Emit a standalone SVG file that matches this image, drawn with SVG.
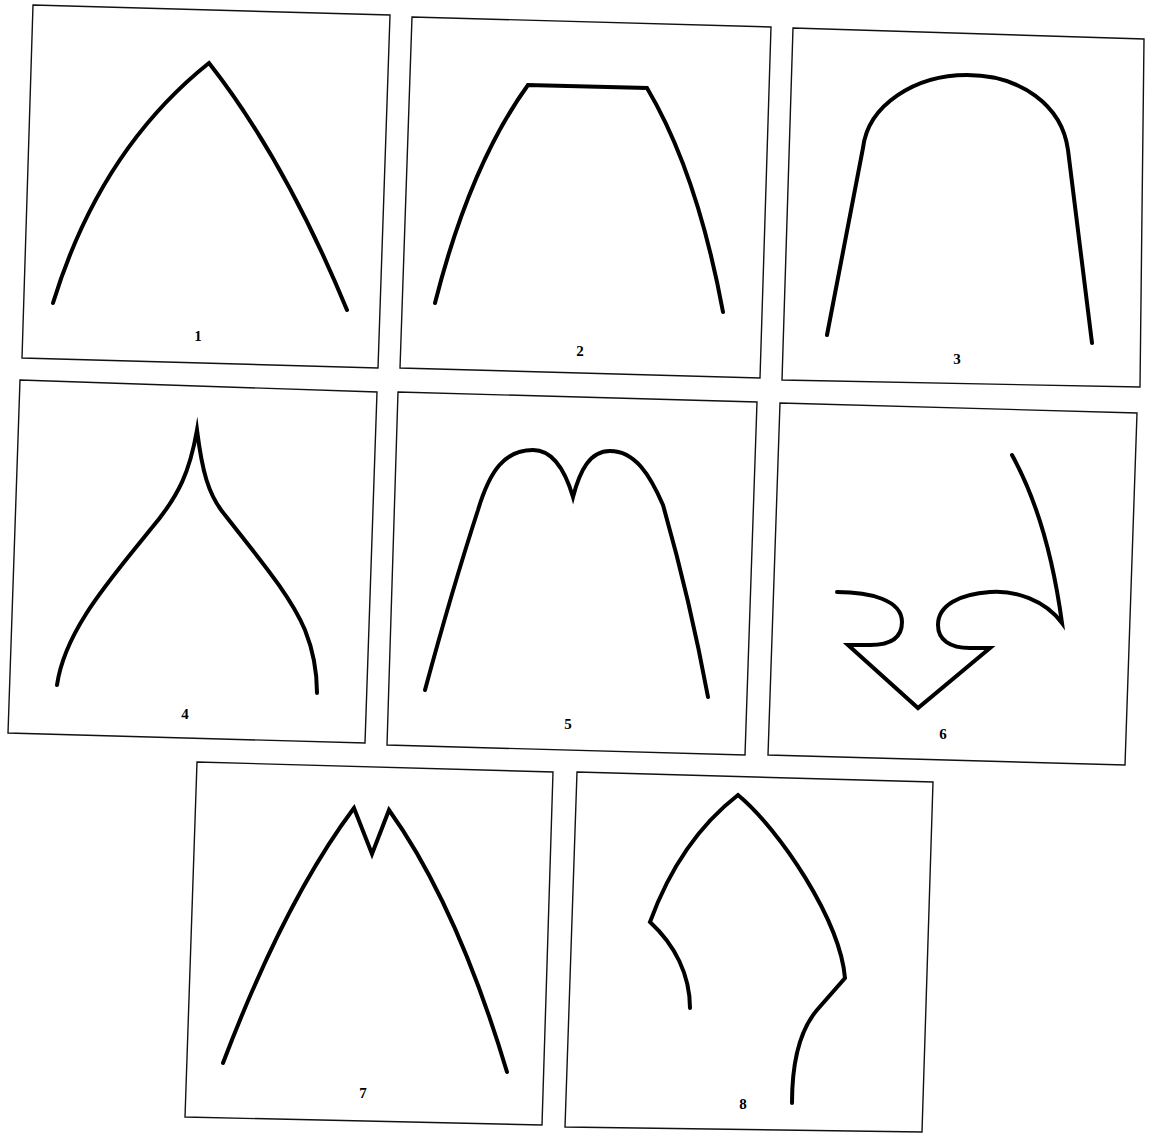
<svg xmlns="http://www.w3.org/2000/svg" width="1150" height="1133" viewBox="0 0 1150 1133">
<style>
.frame{fill:none;stroke:#111;stroke-width:1.4}
.curve{fill:none;stroke:#000;stroke-width:4;stroke-linecap:round;stroke-linejoin:miter;stroke-miterlimit:10}
.lbl{font-family:"Liberation Serif",serif;font-weight:bold;font-size:15px;fill:#000;text-anchor:middle}
</style>
<rect width="1150" height="1133" fill="#fff"/>
<g id="panel1">
<polygon class="frame" points="33,5 390,15 378,368 22,358"/>
<path class="curve" d="M53,303 Q100,150 209,63 Q285,160 347,310"/>
<text class="lbl" x="198" y="341">1</text>
</g>
<g id="panel2">
<polygon class="frame" points="412,17 771,27 760,378 400,368"/>
<path class="curve" d="M435,303 Q470,165 528,85 L647,88 Q697,172 723,312"/>
<text class="lbl" x="580" y="356">2</text>
</g>
<g id="panel3">
<polygon class="frame" points="793,28 1144,39 1140,387 782,380"/>
<path class="curve" d="M827,335 L863,148 C868,105 915,75 967,75 C1020,75 1062,105 1068,150 L1092,343"/>
<text class="lbl" x="957" y="364">3</text>
</g>
<g id="panel4">
<polygon class="frame" points="20,380 377,392 365,743 8,733"/>
<path class="curve" d="M57,685 C65,630 110,580 150,530 C180,495 190,470 197,430 C202,470 208,495 225,515 C260,560 290,595 305,630 C313,650 317,670 317,693"/>
<text class="lbl" x="185" y="719">4</text>
</g>
<g id="panel5">
<polygon class="frame" points="398,392 757,402 745,755 387,745"/>
<path class="curve" d="M425,690 Q452,590 478,510 C490,470 505,450 533,450 C553,450 565,470 573,497 C580,470 590,451 610,451 C635,451 650,475 663,505 Q690,600 708,697"/>
<text class="lbl" x="568" y="729">5</text>
</g>
<g id="panel6">
<polygon class="frame" points="780,403 1137,413 1125,765 768,755"/>
<path class="curve" d="M1012,455 Q1048,520 1062,623 C1045,600 1015,590 990,592 C960,594 938,605 938,625 C938,640 950,648 970,648 L990,648 L918,708 L848,645 L870,645 C890,645 902,638 902,622 C902,600 870,592 837,592"/>
<text class="lbl" x="943" y="739">6</text>
</g>
<g id="panel7">
<polygon class="frame" points="197,762 553,772 542,1125 185,1117"/>
<path class="curve" d="M223,1063 Q285,900 354,808 L372,854 L389,810 Q457,905 507,1072"/>
<text class="lbl" x="363" y="1098">7</text>
</g>
<g id="panel8">
<polygon class="frame" points="577,772 933,782 922,1132 565,1127"/>
<path class="curve" d="M690,1008 C690,975 675,945 650,922 Q680,840 738,795 C780,830 840,920 845,978 L817,1010 C800,1030 792,1060 792,1103"/>
<text class="lbl" x="743" y="1109">8</text>
</g>
</svg>
